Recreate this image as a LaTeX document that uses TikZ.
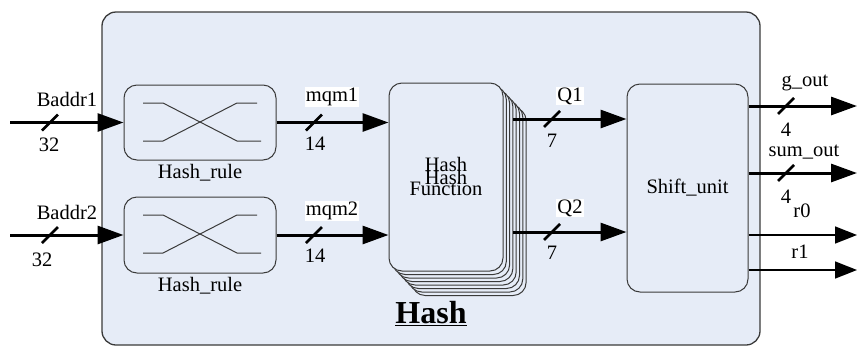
\documentclass[tikz,border=0pt]{standalone}
\usepackage{fontspec}
\setmainfont{Liberation Serif}
\usetikzlibrary{arrows.meta}
\definecolor{bgblue}{HTML}{E6ECF7}
\definecolor{edge}{HTML}{3A3A3A}
\begin{document}
\begin{tikzpicture}[x=1pt,y=-1pt,
  lbl/.style={font=\fontsize{20.5}{22}\selectfont, inner sep=1pt},
  wlbl/.style={lbl, fill=white},
  blk/.style={draw=edge, line width=1pt, rounded corners=13pt, fill=bgblue},
  bus/.style={line width=3pt, -{Triangle[length=26pt,width=18pt]}},
  sig/.style={line width=1.6pt, -{Triangle[length=22pt,width=17pt]}},
  busslash/.style={line width=2.5pt},
  crossline/.style={draw=edge, line width=1pt}]
\useasboundingbox (0,0) rectangle (857,346);
% outer box
\node[draw=edge, line width=1.3pt, fill=bgblue, rounded corners=14pt,
      minimum width=658pt, minimum height=333pt, inner sep=0pt] (outer) at (431,178.5) {};
% hash rule boxes
\node[blk, minimum width=152pt, minimum height=75pt, inner sep=0pt] (hr1) at (200,122.5) {};
\node[blk, minimum width=152pt, minimum height=76pt, inner sep=0pt] (hr2) at (200,235) {};
\foreach \yy in {85,197}{
  \begin{scope}[shift={(124,\yy)}]
    \draw[crossline] (19,18) -- (39,18) -- (113,56) -- (137,56);
    \draw[crossline] (19,56) -- (39,56) -- (113,18) -- (133,18);
  \end{scope}
}
\node[lbl] (hrl1) at (200,173) {Hash\_rule};
\node[lbl] (hrl2) at (200,286) {Hash\_rule};
% hash function stack
\foreach \i in {7,6,...,1}{
  \draw[blk, shift={(3.3*\i,3.5*\i)}] (389,83) rectangle (503,271);
}
\node[blk, minimum width=114pt, minimum height=188pt, inner sep=0pt] (hf) at (446,177) {};
\node[lbl] (hft1) at (446,164) {Hash};
\node[lbl] (hft2) at (446,177) {Hash};
\node[lbl] (hft3) at (446,189) {Function};
% shift unit
\node[blk, minimum width=121pt, minimum height=208pt, inner sep=0pt, lbl] (su) at (687.5,188) {Shift\_unit};
% inputs
\coordinate (b1) at (10,122.5);
\coordinate (b2) at (10,235);
\draw[bus] (b1) -- (hr1.west);
\draw[bus] (b2) -- (hr2.west);
\node[lbl] (lb1) at (67,99) {Baddr1};
\node[lbl] (lb2) at (67,212) {Baddr2};
\node[lbl] (n32a) at (49,145) {32};
\node[lbl] (n32b) at (42,260) {32};
% mqm
\draw[bus] (hr1.east) -- (hr1.east -| hf.west);
\draw[bus] (hr2.east) -- (hr2.east -| hf.west);
\node[wlbl] (lm1) at (332,97) {mqm1};
\node[wlbl] (lm2) at (332,211) {mqm2};
\node[lbl] (n14a) at (315,144) {14};
\node[lbl] (n14b) at (315,256) {14};
% Q
\coordinate (q1) at (513,119);
\coordinate (q2) at (513,232);
\draw[bus] (q1) -- (q1 -| su.west);
\draw[bus] (q2) -- (q2 -| su.west);
\node[wlbl] (lq1) at (570,96) {Q1};
\node[wlbl] (lq2) at (570,208) {Q2};
\node[lbl] (n7a) at (552,141) {7};
\node[lbl] (n7b) at (552,253) {7};
% outputs
\coordinate (go) at (857,106);
\coordinate (so) at (857,173);
\coordinate (r0) at (857,235);
\coordinate (r1) at (857,270);
\draw[bus] (go -| su.east) -- (go);
\draw[bus] (so -| su.east) -- (so);
\draw[sig] (r0 -| su.east) -- (r0);
\draw[sig] (r1 -| su.east) -- (r1);
\node[lbl] (lgo) at (805,83) {g\_out};
\node[lbl] (lso) at (804,152) {sum\_out};
\node[lbl] (lr0) at (802,211) {r0};
\node[lbl] (lr1) at (800,252) {r1};
\node[lbl] (n4a) at (786,130) {4};
\node[lbl] (n4b) at (786,197) {4};
% bus slashes
\foreach \cx/\cy in {50/122.5, 50/235, 314/122.5, 314/235, 552/119, 552/232, 786/106, 786/173}{
  \draw[busslash] (\cx-8,\cy+8) -- (\cx+8,\cy-8);
}
% title
\node[font=\fontsize{32}{34}\selectfont\bfseries, anchor=base, inner sep=0pt] (title) at (431,323) {\underline{Hash}};
\end{tikzpicture}
\end{document}
